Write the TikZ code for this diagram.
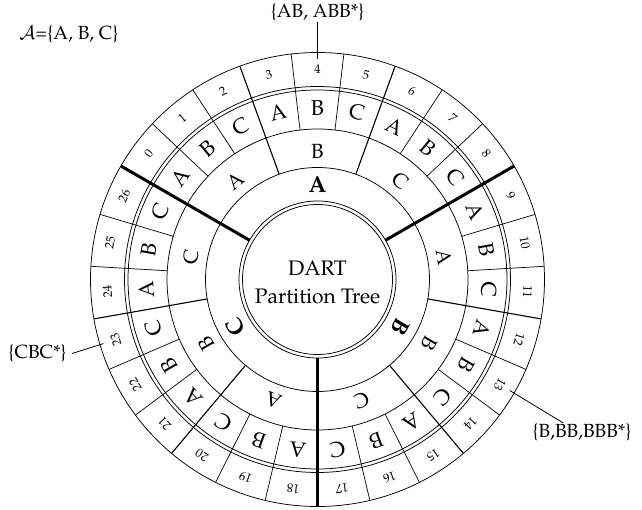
\documentclass[tikz,border=0pt]{standalone}
\usepackage[T1]{fontenc}
\usepackage{mathpazo}
\begin{document}
\begin{tikzpicture}[x=1pt,y=1pt]
\useasboundingbox (0,0) rectangle (642,-510);
\tikzset{
  ring/.style={line width=0.75pt},
  thickdiv/.style={line width=3pt},
  middiv/.style={line width=1.1pt},
  thindiv/.style={line width=0.7pt},
  numlbl/.style={font=\fontsize{12.5}{12.5}\selectfont, inner sep=0pt},
  lthree/.style={font=\fontsize{21.5}{21.5}\selectfont, inner sep=0pt},
  ltwo/.style={font=\fontsize{20.5}{20.5}\selectfont, inner sep=0pt},
  lone/.style={font=\fontsize{23}{23}\selectfont\bfseries, inner sep=0pt},
  annot/.style={font=\fontsize{19}{19}\selectfont, inner sep=1pt},
  centre/.style={font=\fontsize{21}{28}\selectfont, align=center, inner sep=0pt},
  leader/.style={line width=0.8pt}
}
\begin{scope}[shift={(317.5,-279.5)}]
  % rings
  \foreach \r in {75,78.5,112,150.5,189.5,193,227}{
    \draw[ring] (0,0) circle (\r);
  }
  % radial dividers
  \foreach \j in {0,...,26}{
    \pgfmathsetmacro\ang{150-\j*40/3}
    \pgfmathtruncatemacro\mnine{mod(\j,9)}
    \pgfmathtruncatemacro\mthree{mod(\j,3)}
    \ifnum\mnine=0
      \draw[thickdiv] (\ang:78.5) -- (\ang:227);
    \else\ifnum\mthree=0
      \draw[middiv] (\ang:112) -- (\ang:227);
    \else
      \draw[thindiv] (\ang:150.5) -- (\ang:227);
    \fi\fi
  }
  % outer numbers and level-3 letters
  \foreach \k in {0,...,26}{
    \pgfmathsetmacro\ang{143.3333-\k*40/3}
    \pgfmathtruncatemacro\m{mod(\k,3)}
    \node[numlbl, rotate=\ang-90] (num\k) at (\ang:210.5) {\k};
    \node[lthree, rotate=\ang-90] (lt\k) at (\ang:171.5)
      {\ifcase\m A\or B\or C\fi};
  }
  % level-2 letters
  \foreach \s in {0,...,8}{
    \pgfmathsetmacro\ang{130-\s*40}
    \pgfmathtruncatemacro\m{mod(\s,3)}
    \node[ltwo, rotate=\ang-90] (lw\s) at (\ang:128.5)
      {\ifcase\m A\or B\or C\fi};
  }
  % level-1 letters
  \node[lone] (la) at (90:95) {A};
  \node[lone, rotate=-120] (lb) at (-30:95) {B};
  \node[lone, rotate=120] (lc) at (210:95) {C};
  % centre
  \node[centre] (title) at (0,-3) {DART\\Partition Tree};
  % leader end points
  \coordinate (p4) at (90:220);
  \coordinate (p23) at (196.67:223.5);
  \coordinate (p13) at (-30:222);
\end{scope}
\node[annot] (alpha) at (69,-34) {$\mathcal{A}$=\{A, B, C\}};
\node[annot] (ab) at (317.5,-12.5) {\{AB, ABB*\}};
\node[annot, inner xsep=5pt] (cbc) at (37.5,-353.5) {\{CBC*\}};
\node[annot] (bbb) at (582,-432.5) {\{B,BB,BBB*\}};
\draw[leader] (ab.south) -- (p4);
\draw[leader] (cbc.east) -- (p23);
\draw[leader] (bbb.153) -- (p13);
\end{tikzpicture}
\end{document}
